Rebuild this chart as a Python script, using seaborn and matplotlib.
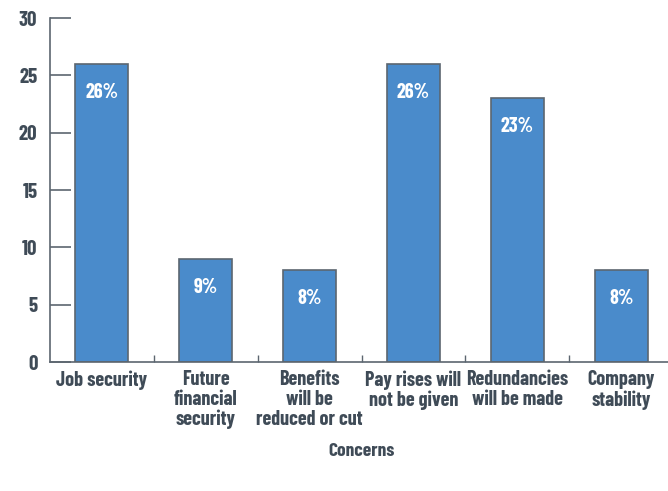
import matplotlib
matplotlib.use("Agg")
import matplotlib.pyplot as plt
from matplotlib import font_manager
import seaborn as sns
import pandas as pd

categories = ["Job security", "Future\nfinancial\nsecurity", "Benefits\nwill be\nreduced or cut",
              "Pay rises will\nnot be given", "Redundancies\nwill be made", "Company\nstability"]
values = [26, 9, 8, 26, 23, 8]
value_labels = ["26%", "9%", "8%", "26%", "23%", "8%"]
y_ticks = [0, 5, 10, 15, 20, 25, 30]

sns.set_theme(style="white")
names = {f.name for f in font_manager.fontManager.ttflist}
family = "Barlow Condensed" if "Barlow Condensed" in names else "DejaVu Sans"
plt.rcParams["font.family"] = [family, "DejaVu Sans"]

text_color = "#3f4b57"
axis_color = "#5c6670"
bar_color = "#4a8bcb"
W = 700

df = pd.DataFrame({"Concerns": categories, "value": values})

fig = plt.figure(figsize=(6.68, 4.91), dpi=100)
ax = fig.add_axes([50 / 668, 1 - 362 / 491, 623 / 668, 344 / 491])

sns.barplot(data=df, x="Concerns", y="value", color=bar_color, width=0.51,
            edgecolor=axis_color, linewidth=1.2, saturation=1, ax=ax)

ax.set_xlim(-0.5, 5.5)
ax.set_ylim(0, 30)
ax.set_yticks(y_ticks)
ax.set_yticklabels([str(t) for t in y_ticks], fontsize=15, color=text_color, fontweight=W)

# category labels sit under each bar; the ticks mark the gaps between categories
ax.set_xticks(range(len(categories)))
ax.set_xticklabels(categories, fontsize=14.5, color=text_color, fontweight=W,
                   linespacing=1.05, va="top")
ax.tick_params(axis="x", which="major", bottom=True, length=0, pad=6)
ax.set_xticks([i + 0.5 for i in range(len(categories) - 1)], minor=True)
ax.tick_params(axis="x", which="minor", bottom=True, direction="in", length=5,
               width=1, color=axis_color)
ax.tick_params(axis="y", left=True, direction="in", length=15, width=1.2,
               color=axis_color, pad=9)

for s in ["top", "right"]:
    ax.spines[s].set_visible(False)
for s in ["left", "bottom"]:
    ax.spines[s].set_color(axis_color)
    ax.spines[s].set_linewidth(1.2)

ax.set_ylabel("")
ax.set_xlabel("Concerns", fontsize=14, color=text_color, fontweight=W, labelpad=10)

for i, (v, lab) in enumerate(zip(values, value_labels)):
    ax.text(i, v - 2.5, lab, ha="center", va="center", color="white",
            fontsize=14.5, fontweight=W)

fig.savefig("out.png", dpi=100)
